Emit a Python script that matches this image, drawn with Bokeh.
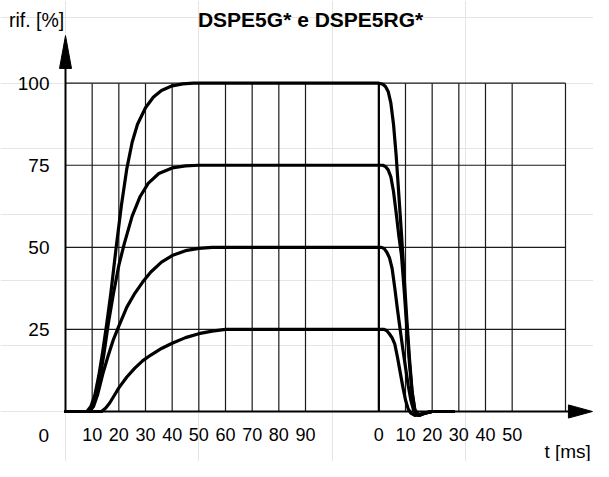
from bokeh.plotting import figure
from bokeh.models import Range1d
from bokeh.core.properties import value
from bokeh.embed import file_html
from bokeh.resources import INLINE

# ---------------- data ----------------
title_text = "DSPE5G* e DSPE5RG*"
y_axis_label = "rif. [%]"
x_axis_label = "t [ms]"

levels = [25, 50, 75, 100]
level_labels = ["25", "50", "75", "100"]

first_ticks = [10, 20, 30, 40, 50, 60, 70, 80, 90]
first_labels = ["10", "20", "30", "40", "50", "60", "70", "80", "90"]
second_ticks = [0, 10, 20, 30, 40, 50]
second_labels = ["0", "10", "20", "30", "40", "50"]
second_grid = [0, 10, 20, 30, 40, 50, 70]

# rise (first time scale, ms) and fall (second time scale, ms)
t_rise_100 = [0, 8, 9.5, 11, 12.5, 14, 15.5, 17, 19, 21, 23, 25, 27, 30, 33, 36, 40, 44, 48]
v_rise_100 = [0, 0, 1.5, 5, 11, 18.5, 27, 36, 50, 63, 74, 82, 87.5, 92.5, 95.8, 97.8, 99.2, 99.8, 100]
t_fall_100 = [0, 1.5, 2.5, 3.5, 4.5, 5.5, 6.5, 7.5, 8.5, 9.5, 10.5, 11.5, 12.5, 13.5, 15, 17, 20, 28]
v_fall_100 = [100, 99.7, 99, 97.5, 94, 87.5, 78, 66, 54, 41, 28, 16, 6, 0.5, -1.2, -0.6, 0, 0]

t_rise_75 = [0, 8.5, 10, 11.5, 13, 14.5, 16, 18, 20, 22, 25, 28, 31, 35, 40, 45, 50]
v_rise_75 = [0, 0, 1.5, 5, 10.5, 18, 26.5, 36, 44.5, 51, 59.5, 65.5, 69.5, 72.5, 74.2, 74.8, 75]
t_fall_75 = [0, 1.5, 2.5, 3.5, 4.5, 5.5, 6.5, 7.5, 8.5, 9.5, 10.5, 11.5, 12.5, 13.5, 15, 17, 20, 28]
v_fall_75 = [75, 75, 74.6, 73.6, 71.5, 67, 60.5, 53.5, 47.5, 37, 25.5, 14.5, 5.5, 0.5, -1.2, -0.6, 0, 0]

t_rise_50 = [0, 9, 10.5, 12, 14, 16, 18, 20, 23, 26, 29, 32, 36, 40, 45, 50, 55]
v_rise_50 = [0, 0, 1.5, 5, 11.5, 17, 22, 26, 31.8, 36, 39.5, 42.5, 45.5, 47.5, 49, 49.7, 50]
t_fall_50 = [0, 1, 2, 3, 4, 5, 6, 7, 8, 9, 10, 11, 12, 13, 14, 15, 17, 20, 28]
v_fall_50 = [50, 50, 49.6, 48.5, 46.8, 43.5, 37.5, 31, 25, 19, 13.5, 8, 3.5, 0.5, -1, -1.2, -0.5, 0, 0]

t_rise_25 = [0, 13.5, 15, 16.5, 18, 20, 23, 26, 29, 32, 36, 40, 45, 50, 55, 60]
v_rise_25 = [0, 0, 1, 2.5, 4.5, 7.2, 10.5, 13.2, 15.5, 17.2, 19.2, 20.8, 22.5, 23.7, 24.5, 25]
t_fall_25 = [0, 2, 3, 4, 5, 6, 7, 8, 9, 10, 11, 12, 13.5, 15, 17, 20, 28]
v_fall_25 = [25, 25, 24.6, 23.6, 22.4, 20.5, 16.5, 12, 7.5, 3.5, 0.8, -0.5, -1.2, -1, -0.4, 0, 0]

curves = [
    (t_rise_100, v_rise_100, t_fall_100, v_fall_100),
    (t_rise_75, v_rise_75, t_fall_75, v_fall_75),
    (t_rise_50, v_rise_50, t_fall_50, v_fall_50),
    (t_rise_25, v_rise_25, t_fall_25, v_fall_25),
]

# ---------------- layout ----------------
BREAK = 117.5      # where the second time scale starts on the drawing
GRID_END = BREAK + 70
FONT = value("Liberation Sans")

p = figure(width=593, height=461,
           x_range=Range1d(-24.375, 198.0), y_range=Range1d(-15.23, 125.19),
           x_axis_location=None, y_axis_location=None,
           toolbar_location=None, output_backend="svg",
           min_border=0, min_border_left=0, min_border_right=0,
           min_border_top=0, min_border_bottom=0)
p.outline_line_color = None
p.background_fill_color = "white"
p.border_fill_color = "white"

GRID_COLOR = "#1a1a1a"

# horizontal grid lines
p.segment(x0=[0] * len(levels), y0=levels, x1=[GRID_END] * len(levels), y1=levels,
          line_color=GRID_COLOR, line_width=1.2)
# vertical grid lines, first scale
p.segment(x0=first_ticks, y0=[0] * len(first_ticks), x1=first_ticks, y1=[100] * len(first_ticks),
          line_color=GRID_COLOR, line_width=1.2)
# vertical grid lines, second scale
sg = [BREAK + t for t in second_grid]
p.segment(x0=sg, y0=[0] * len(sg), x1=sg, y1=[100] * len(sg),
          line_color=GRID_COLOR, line_width=1.2)
# thicker line at the command switch
p.segment(x0=[BREAK], y0=[0], x1=[BREAK], y1=[100], line_color="black", line_width=2.2)

# curves
for tr, vr, tf, vf in curves:
    xs = list(tr) + [BREAK + t for t in tf]
    ys = list(vr) + list(vf)
    p.line(xs, ys, line_color="black", line_width=3.2, line_join="round", line_cap="round")

# axes with arrows
p.segment(x0=[0], y0=[0], x1=[0], y1=[105], line_color="black", line_width=2)
p.patch([-2.25, 2.25, 0], [104.5, 104.5, 114.5], fill_color="black", line_color="black", line_width=1)
p.segment(x0=[0], y0=[0], x1=[190], y1=[0], line_color="black", line_width=2)
p.patch([188.6, 188.6, 197.6], [2.0, -2.0, 0], fill_color="black", line_color="black", line_width=1)

# tick labels
p.text(x=[-6.0] * len(levels), y=levels, text=level_labels, text_font=FONT,
       text_font_size="19px", text_align="right", text_baseline="middle", text_color="black")
p.text(x=[-6.2], y=[-7.3], text=["0"], text_font=FONT,
       text_font_size="19px", text_align="right", text_baseline="middle", text_color="black")
p.text(x=first_ticks, y=[-7.1] * len(first_ticks), text=first_labels, text_font=FONT,
       text_font_size="18px", text_align="center", text_baseline="middle", text_color="black")
p.text(x=[BREAK + t for t in second_ticks], y=[-7.1] * len(second_ticks), text=second_labels,
       text_font=FONT, text_font_size="18px", text_align="center", text_baseline="middle",
       text_color="black")

# titles
p.text(x=[91.9], y=[119.4], text=[title_text], text_font=FONT, text_font_style="bold",
       text_font_size="21px", text_align="center", text_baseline="middle", text_color="black")
p.text(x=[-21.2], y=[119.2], text=[y_axis_label], text_font=FONT,
       text_font_size="19.5px", text_align="left", text_baseline="middle", text_color="black")
p.text(x=[197.0], y=[-12.3], text=[x_axis_label], text_font=FONT,
       text_font_size="19px", text_align="right", text_baseline="middle", text_color="black")

open("out.html", "w").write(file_html(p, INLINE))
